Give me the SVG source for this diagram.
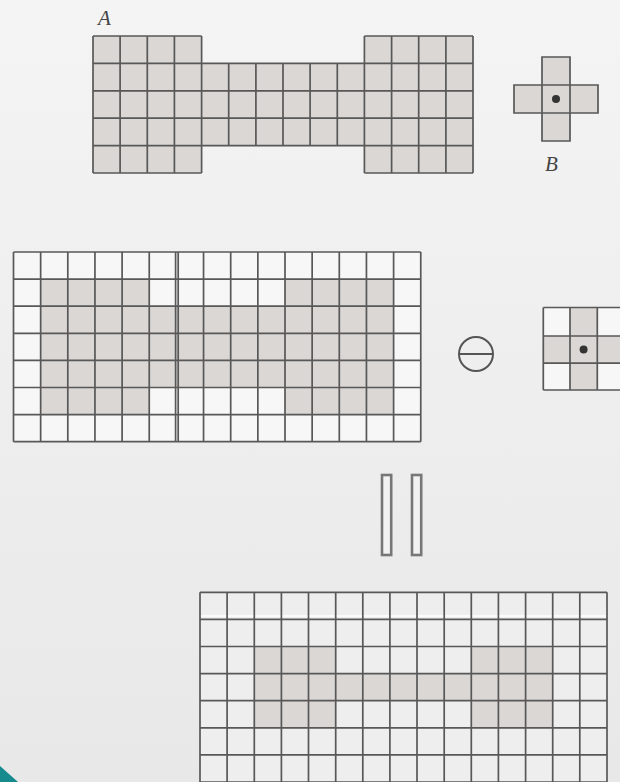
<svg xmlns="http://www.w3.org/2000/svg" width="620" height="782" viewBox="0 0 620 782">
<defs>
<linearGradient id="bg" x1="0" y1="0" x2="0" y2="1">
<stop offset="0" stop-color="#f4f4f4"/>
<stop offset="1" stop-color="#e8e8e8"/>
</linearGradient>
<style>
.sh{fill:#dad7d5}
.wh{fill:#f7f7f7}
.lt{fill:#eeeeee}
.ln{fill:none;stroke:#585858;stroke-width:1.7}
.sym{fill:none;stroke:#555;stroke-width:2}
.bar{fill:#f2f2f2;stroke:#777;stroke-width:2.6}
.dot{fill:#333}
.lbl{font-family:"Liberation Serif","DejaVu Serif",serif;font-style:italic;font-size:21px;fill:#444}
</style>
</defs>
<rect width="620" height="782" fill="url(#bg)"/>

<g id="setA">
<rect class="sh" x="93" y="36" width="108.6" height="137"/>
<rect class="sh" x="201.6" y="63.4" width="162.8" height="82.2"/>
<rect class="sh" x="364.4" y="36" width="108.6" height="137"/>
<path class="ln" d="M93 36V173M120.1 36V173M147.3 36V173M174.4 36V173M201.6 36V173M228.7 63.4V145.6M255.9 63.4V145.6M283 63.4V145.6M310.1 63.4V145.6M337.3 63.4V145.6M364.4 36V173M391.6 36V173M418.7 36V173M445.9 36V173M473 36V173M93 36H201.6M364.4 36H473M93 173H201.6M364.4 173H473M93 63.4H473M93 90.8H473M93 118.2H473M93 145.6H473"/>
<text class="lbl" x="98" y="25">A</text>
</g>

<g id="elementB">
<path class="sh" d="M542 57H570V85H598V113H570V141H542V113H514V85H542Z"/>
<path class="ln" d="M542 57H570V85H598V113H570V141H542V113H514V85H542ZM542 85H570M542 113H570M542 85V113M570 85V113"/>
<circle class="dot" cx="556" cy="99" r="4"/>
<text class="lbl" x="545" y="171">B</text>
</g>

<g id="paddedA">
<rect class="wh" x="13.5" y="252" width="407.25" height="189.7"/>
<rect class="sh" x="40.65" y="279.1" width="108.6" height="135.5"/>
<rect class="sh" x="149.25" y="306.2" width="135.75" height="81.3"/>
<rect class="sh" x="285" y="279.1" width="108.6" height="135.5"/>
<path class="ln" d="M13.5 252V441.7M40.65 252V441.7M67.8 252V441.7M94.95 252V441.7M122.1 252V441.7M149.25 252V441.7M175.6 252V441.7M178.2 252V441.7M203.55 252V441.7M230.7 252V441.7M257.85 252V441.7M285 252V441.7M312.15 252V441.7M339.3 252V441.7M366.45 252V441.7M393.6 252V441.7M420.75 252V441.7M13.5 252H420.75M13.5 279.1H420.75M13.5 306.2H420.75M13.5 333.3H420.75M13.5 360.4H420.75M13.5 387.5H420.75M13.5 414.6H420.75M13.5 441.7H420.75"/>
</g>

<g id="erosionOp">
<circle class="sym" cx="476" cy="354" r="17"/>
<path class="sym" d="M459 354H493"/>
</g>

<g id="elementB2">
<rect class="wh" x="543.3" y="307.5" width="81.2" height="82.5"/>
<rect class="sh" x="570" y="307.5" width="27.3" height="82.5"/>
<rect class="sh" x="543.3" y="336" width="81.2" height="27.2"/>
<path class="ln" d="M543.3 307.5V390M570 307.5V390M597.3 307.5V390M624.5 307.5V390M543.3 307.5H624.5M543.3 336H624.5M543.3 363.2H624.5M543.3 390H624.5"/>
<circle class="dot" cx="583.6" cy="349.6" r="4"/>
</g>

<g id="equals">
<rect class="bar" x="382" y="475" width="9.2" height="80"/>
<rect class="bar" x="412" y="475" width="9.2" height="80"/>
</g>

<g id="result">
<rect class="lt" x="200" y="592.3" width="407" height="189.7"/>
<rect class="sh" x="254.3" y="646.5" width="81.4" height="81.3"/>
<rect class="sh" x="335.7" y="673.6" width="135.6" height="27.1"/>
<rect class="sh" x="471.3" y="646.5" width="81.4" height="81.3"/>
<path d="M200 616H607" stroke="#ffffff" stroke-width="1.4" fill="none"/>
<path class="ln" d="M200 592.3V782M227.1 592.3V782M254.3 592.3V782M281.4 592.3V782M308.5 592.3V782M335.7 592.3V782M362.8 592.3V782M389.9 592.3V782M417 592.3V782M444.2 592.3V782M471.3 592.3V782M498.4 592.3V782M525.6 592.3V782M552.7 592.3V782M579.8 592.3V782M607 592.3V782M200 592.3H607M200 619.4H607M200 646.5H607M200 673.6H607M200 700.7H607M200 727.8H607M200 754.9H607M200 782H607"/>
</g>

<g id="connectors"></g>

<polygon points="0,766 18,782 0,782" fill="#178a8e"/>
</svg>
